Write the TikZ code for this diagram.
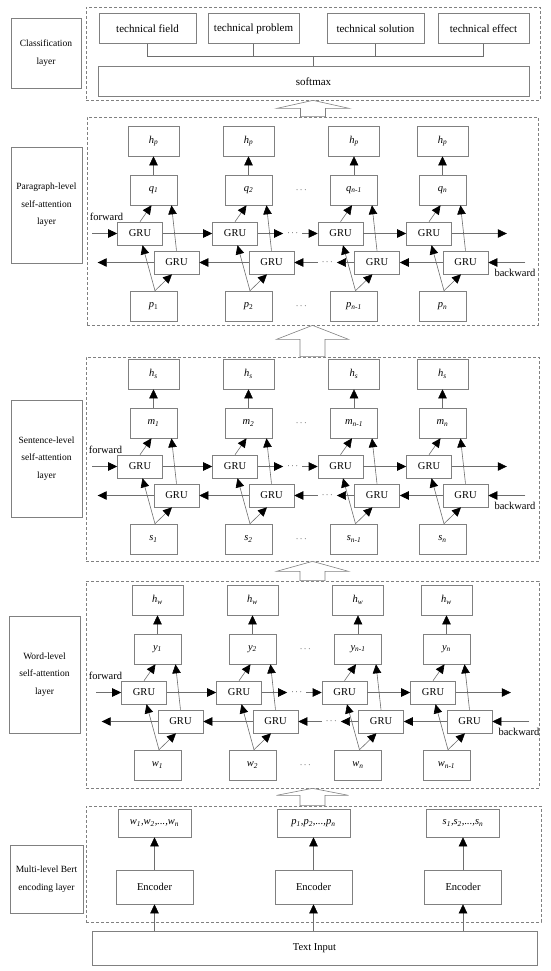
\documentclass[tikz,border=0pt]{standalone}
\usepackage{fontspec}
\setmainfont{Liberation Serif}
\usepackage{tikz}
\usetikzlibrary{calc, arrows.meta, positioning}
\definecolor{LineGray}{HTML}{6E6E6E}
\definecolor{BoxGray}{HTML}{808080}
\newcommand{\vsub}[2]{\textit{#1\textsubscript{#2}}}
\newcommand{\vsubr}[2]{\textit{#1}\textsubscript{#2}}
\tikzset{
  cell/.style={draw=BoxGray, line width=0.6pt, minimum width=47pt, minimum height=30pt,
    inner sep=1pt, font=\fontsize{10.5}{12}\selectfont},
  topbox/.style={cell, minimum height=30pt, font=\fontsize{11}{12}\selectfont},
  grubox/.style={cell, fill=white, minimum width=45pt, minimum height=23pt},
  lblbox/.style={draw=BoxGray, line width=0.6pt, align=center, inner sep=1pt,
    font=\fontsize{9.5}{17.5}\selectfont},
  layerbox/.style={draw=BoxGray, line width=0.7pt, dash pattern=on 3pt off 2pt, inner sep=0pt},
  arr/.style={draw=LineGray, line width=0.6pt, -{Triangle[length=9pt, width=8.5pt, color=black]}},
  link/.style={draw=LineGray, line width=0.6pt},
  dots/.style={inner xsep=4pt, inner ysep=1pt, font=\fontsize{9}{10}\selectfont},
  hollow/.style={draw=BoxGray, line width=0.6pt, fill=white},
  sidetext/.style={inner sep=0pt, font=\fontsize{10.5}{12}\selectfont}
}
% one column of a bidirectional GRU layer: prefix, x, y of top row, top, middle, bottom labels
\newcommand{\grucol}[6]{%
  \node[cell, minimum width=51pt] (#1h) at (#2,#3) {#4};
  \node[cell] (#1q) at (#2,#3+49) {#5};
  \node[grubox] (#1f) at (#2-13.5,#3+92.5) {GRU};
  \node[grubox] (#1b) at (#2+23,#3+121.5) {GRU};
  \node[cell] (#1p) at (#2,#3+165) {#6};
  \draw[arr] (#1q) -- (#1h);
  \draw[arr] (#1f.north) -- ([xshift=-2pt]#1q.south);
  \draw[arr] (#1b.north) -- ([xshift=18pt]#1q.south);
  \draw[arr] ([xshift=1.5pt]#1p.north) -- ([xshift=2.5pt]#1f.south);
  \draw[arr] ([xshift=1.5pt]#1p.north) -- ([xshift=-4.5pt]#1b.south);
}
% forward / backward chains of a layer (prefix, layer box)
\newcommand{\grulinks}[2]{%
  \node[dots] (#1qd) at ($(#12q)!0.5!(#13q)$) {$\cdots$};
  \node[dots] (#1pd) at ($(#12p)!0.5!(#13p)$) {$\cdots$};
  \node[dots] (#1fd) at ($(#12f)!0.5!(#13f)+(5,0)$) {$\cdots$};
  \node[dots] (#1bd) at ($(#12b)!0.5!(#13b)+(3,0)$) {$\cdots$};
  \coordinate (#1fin) at ([xshift=-25pt]#11f.west);
  \coordinate (#1fout) at ([xshift=55pt]#14f.east);
  \coordinate (#1bin) at ([xshift=37pt]#14b.east);
  \coordinate (#1bout) at ([xshift=-56pt]#11b.west);
  \draw[arr] (#1fin) -- (#11f);
  \draw[arr] (#11f) -- (#12f);
  \draw[arr] (#12f) -- (#1fd);
  \draw[arr] (#1fd) -- (#13f);
  \draw[arr] (#13f) -- (#14f);
  \draw[arr] (#14f) -- (#1fout);
  \draw[arr] (#1bin) -- (#14b);
  \draw[arr] (#14b) -- (#13b);
  \draw[arr] (#13b) -- (#1bd);
  \draw[arr] (#1bd) -- (#12b);
  \draw[arr] (#12b) -- (#11b);
  \draw[arr] (#11b) -- (#1bout);
  \node[sidetext, anchor=west] (#1fwd) at ([xshift=3pt, yshift=17pt]#2.west |- #1fin) {forward};
  \node[sidetext, anchor=west] (#1bwd) at ([xshift=-31pt, yshift=-10pt]#1bin) {backward};
}
% hollow arrow from a lower layer box up to an upper one
\newcommand{\hollowup}[3]{%
  \draw[hollow] ($(#2.south |- #1.north)+(-12.5,0)$) -- ($(#2.south)+(-12.5,#3)$)
    -- ($(#2.south)+(-36,#3)$) -- (#2.south) -- ($(#2.south)+(36,#3)$)
    -- ($(#2.south)+(12.5,#3)$) -- ($(#2.south |- #1.north)+(12.5,0)$) -- cycle;
}

\begin{document}
\begin{tikzpicture}[x=1pt, y=-1pt]
  \useasboundingbox (0,0) rectangle (550,971);

  % Classification layer
  \node[layerbox, minimum width=454pt, minimum height=93pt] (cls) at (313,53.5) {};
  \node[lblbox, minimum width=70pt, minimum height=70pt] (clsl) at (46,53) {Classification\\layer};
  \node[topbox, minimum width=97pt] (tf) at (147.5,28.5) {technical field};
  \node[topbox, minimum width=91pt] (tp) at (253.5,28.5) {technical problem};
  \node[topbox, minimum width=97pt] (ts) at (375.5,28.5) {technical solution};
  \node[topbox, minimum width=91pt] (te) at (483.5,28.5) {technical effect};
  \node[topbox, minimum width=431pt, minimum height=30pt] (smax) at (313.5,81.5) {softmax};
  \coordinate (cj) at (313.5,56.5);
  \draw[link] (tf.south) |- (cj);
  \draw[link] (te.south) |- (cj);
  \draw[link] (tp.south) -- (tp.south |- cj);
  \draw[link] (ts.south) -- (ts.south |- cj);
  \draw[link] (cj) -- (smax.north);

  % Paragraph-level layer
  \node[layerbox, minimum width=451pt, minimum height=208pt] (par) at (312.5,221) {};
  \node[lblbox, minimum width=71pt, minimum height=116pt] (parl) at (46.5,205)
    {Paragraph-level\\self-attention\\layer};
  \grucol{P1}{153.5}{141}{\vsub{h}{p}}{\vsub{q}{1}}{\vsubr{p}{1}}
  \grucol{P2}{248.5}{141}{\vsub{h}{p}}{\vsub{q}{2}}{\vsubr{p}{2}}
  \grucol{P3}{354}{141}{\vsub{h}{p}}{\vsub{q}{n-1}}{\vsub{p}{n-1}}
  \grucol{P4}{442.5}{141}{\vsub{h}{p}}{\vsub{q}{n}}{\vsub{p}{n}}
  \grulinks{P}{par}

  % Sentence-level layer
  \node[layerbox, minimum width=453pt, minimum height=204pt] (sen) at (312.5,459) {};
  \node[lblbox, minimum width=71pt, minimum height=117pt] (senl) at (46.5,458.5)
    {Sentence-level\\self-attention\\layer};
  \grucol{S1}{153.5}{374}{\vsub{h}{s}}{\vsub{m}{1}}{\vsub{s}{1}}
  \grucol{S2}{248.5}{374}{\vsub{h}{s}}{\vsub{m}{2}}{\vsub{s}{2}}
  \grucol{S3}{354}{374}{\vsub{h}{s}}{\vsub{m}{n-1}}{\vsub{s}{n-1}}
  \grucol{S4}{442.5}{374}{\vsub{h}{s}}{\vsub{m}{n}}{\vsub{s}{n}}
  \grulinks{S}{sen}

  % Word-level layer
  \node[layerbox, minimum width=453pt, minimum height=207pt] (wrd) at (312.5,684.5) {};
  \node[lblbox, minimum width=71pt, minimum height=117pt] (wrdl) at (44.5,674.5)
    {Word-level\\self-attention\\layer};
  \grucol{W1}{157.5}{600}{\vsub{h}{w}}{\vsub{y}{1}}{\vsub{w}{1}}
  \grucol{W2}{252.5}{600}{\vsub{h}{w}}{\vsub{y}{2}}{\vsub{w}{2}}
  \grucol{W3}{358}{600}{\vsub{h}{w}}{\vsub{y}{n-1}}{\vsub{w}{n}}
  \grucol{W4}{446.5}{600}{\vsub{h}{w}}{\vsub{y}{n}}{\vsub{w}{n-1}}
  \grulinks{W}{wrd}

  % Multi-level Bert encoding layer
  \node[layerbox, minimum width=455pt, minimum height=116pt] (brt) at (313.5,864) {};
  \node[lblbox, minimum width=73pt, minimum height=68pt] (brtl) at (46.5,879)
    {Multi-level Bert\\encoding layer};
  \node[cell, minimum width=73pt, minimum height=28pt] (wseq) at (154.5,823)
    {\textit{w\textsubscript{1},w\textsubscript{2},...,w\textsubscript{n}}};
  \node[cell, minimum width=73pt, minimum height=28pt] (pseq) at (313.5,823)
    {\textit{p\textsubscript{1},p\textsubscript{2},...,p\textsubscript{n}}};
  \node[cell, minimum width=73pt, minimum height=28pt] (sseq) at (463,823)
    {\textit{s\textsubscript{1},s\textsubscript{2},...,s\textsubscript{n}}};
  \node[cell, minimum width=77pt, minimum height=34pt] (enc1) at (154.5,887) {Encoder};
  \node[cell, minimum width=77pt, minimum height=34pt] (enc2) at (313.5,887) {Encoder};
  \node[cell, minimum width=77pt, minimum height=34pt] (enc3) at (463,887) {Encoder};
  \node[cell, minimum width=445pt, minimum height=34pt] (txt) at (314.5,948) {Text Input};
  \draw[arr] (enc1) -- (wseq);
  \draw[arr] (enc2) -- (pseq);
  \draw[arr] (enc3) -- (sseq);
  \draw[arr] (txt.north -| enc1) -- (enc1);
  \draw[arr] (txt.north -| enc2) -- (enc2);
  \draw[arr] (txt.north -| enc3) -- (enc3);

  % hollow arrows between layers
  \hollowup{par}{cls}{8}
  \hollowup{sen}{par}{14}
  \hollowup{wrd}{sen}{10}
  \hollowup{brt}{wrd}{7}
\end{tikzpicture}
\end{document}
